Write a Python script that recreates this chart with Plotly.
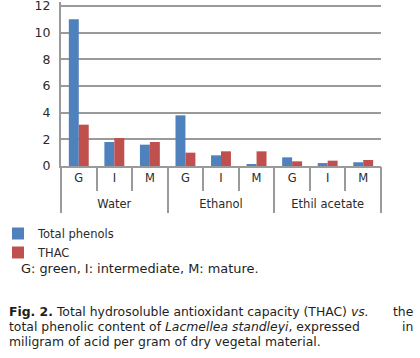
import plotly.graph_objects as go

solvents = ["Water", "Ethanol", "Ethil acetate"]
stages = ["G", "I", "M"]
total_phenols = [11.0, 1.8, 1.6, 3.8, 0.8, 0.1, 0.65, 0.22, 0.28]
thac = [3.1, 2.1, 1.8, 1.0, 1.1, 1.1, 0.35, 0.4, 0.45]
y_ticks = [0, 2, 4, 6, 8, 10, 12]

n_st = len(stages)
cats = list(range(len(solvents) * n_st))            # one slot per (solvent, stage)
inner_labels = stages * len(solvents)
inner_bounds = [g * n_st + k - 0.5 for g in range(len(solvents)) for k in range(1, n_st)]
group_bounds = [g * n_st - 0.5 for g in range(len(solvents) + 1)]
group_centers = [g * n_st + (n_st - 1) / 2 for g in range(len(solvents))]
xr = [-0.5, len(cats) - 0.5]

FONT = "DejaVu Sans"
GRID = "#9a9a9a"
TXT = "#2b2b2b"

# plot area in pixels
W, H = 420, 358
L, R, B = 61, 381, 166
YMAX = 12.3
PXU = 160 / 12.0
T = B - YMAX * PXU


def px(x):
    return (x - L) / (R - L)


def py(y):
    return (B - y) / (B - T)


fig = go.Figure()
fig.add_trace(go.Bar(x=cats, y=total_phenols, name="Total phenols",
                     marker=dict(color="#4f81bd", line=dict(width=0))))
fig.add_trace(go.Bar(x=cats, y=thac, name="THAC",
                     marker=dict(color="#c0504d", line=dict(width=0))))
# invisible anchors so the overlay axes (separators / group labels) are drawn
for ax in ("x2", "x3", "x4"):
    fig.add_trace(go.Scatter(x=cats, y=[0] * len(cats), xaxis=ax, yaxis="y",
                             mode="markers", marker=dict(opacity=0, size=1),
                             hoverinfo="skip", showlegend=False))

common = dict(range=xr, showgrid=False, zeroline=False, automargin=False,
              fixedrange=True)

fig.update_layout(
    width=W, height=H,
    margin=dict(l=L, r=W - R, t=T, b=H - B, autoexpand=False, pad=0),
    paper_bgcolor="white", plot_bgcolor="white",
    barmode="group", bargap=0.44, bargroupgap=0,
    font=dict(family=FONT, size=11.5, color=TXT),
    showlegend=True,
    legend=dict(x=px(-2), y=py(219),
                xanchor="left", yanchor="top", bgcolor="rgba(0,0,0,0)",
                font=dict(size=11.5, family=FONT, color=TXT),
                itemwidth=30, tracegroupgap=0, traceorder="normal"),
    xaxis=dict(**common, tickmode="array", tickvals=cats, ticktext=inner_labels,
               showline=True, linecolor=GRID, linewidth=2, ticks="",
               ticklabelstandoff=0,
               tickfont=dict(size=11.5, family=FONT, color=TXT)),
    xaxis2=dict(**common, overlaying="x", anchor="y", side="bottom",
                tickmode="array", tickvals=inner_bounds, showticklabels=False,
                ticks="outside", ticklen=24, tickwidth=2, tickcolor=GRID),
    xaxis3=dict(**common, overlaying="x", anchor="y", side="bottom",
                tickmode="array", tickvals=group_bounds, showticklabels=False,
                ticks="outside", ticklen=46, tickwidth=2, tickcolor=GRID),
    xaxis4=dict(**common, overlaying="x", anchor="y", side="bottom",
                tickmode="array", tickvals=group_centers, ticktext=solvents,
                ticks="", ticklabelstandoff=29,
                tickfont=dict(size=11.5, family=FONT, color=TXT)),
    yaxis=dict(range=[0, YMAX], tickmode="array", tickvals=y_ticks, showgrid=True,
               gridcolor=GRID, gridwidth=2, showline=True, linecolor=GRID,
               linewidth=2, automargin=False, zeroline=False, ticks="",
               ticklabelstandoff=6, fixedrange=True, ticklabeloverflow="allow",
               tickfont=dict(size=12.5, family=FONT, color=TXT)),
)

fig.add_annotation(xref="paper", yref="paper", x=px(19), y=py(268),
                   xanchor="left", yanchor="middle", showarrow=False,
                   text="G: green, I: intermediate, M: mature.",
                   font=dict(size=12.9, family=FONT, color="#1e1e1e"))

cap = [
    ("<b>Fig. 2.</b> Total hydrosoluble antioxidant capacity (THAC) <i>vs.</i>", "the", 311.5),
    ("total phenolic content of <i>Lacmellea standleyi</i>, expressed", "in", 326.5),
    ("miligram of acid per gram of dry vegetal material.", None, 341.5),
]
for left, right, yy in cap:
    fig.add_annotation(xref="paper", yref="paper", x=px(7), y=py(yy),
                       xanchor="left", yanchor="middle", showarrow=False, text=left,
                       font=dict(size=12.4, family=FONT, color="#1e1e1e"))
    if right:
        fig.add_annotation(xref="paper", yref="paper", x=px(415), y=py(yy),
                           xanchor="right", yanchor="middle", showarrow=False, text=right,
                           font=dict(size=12.4, family=FONT, color="#1e1e1e"))

fig.write_html("out.html", config={"displayModeBar": False},
               post_script="document.body.style.margin='0px';")
